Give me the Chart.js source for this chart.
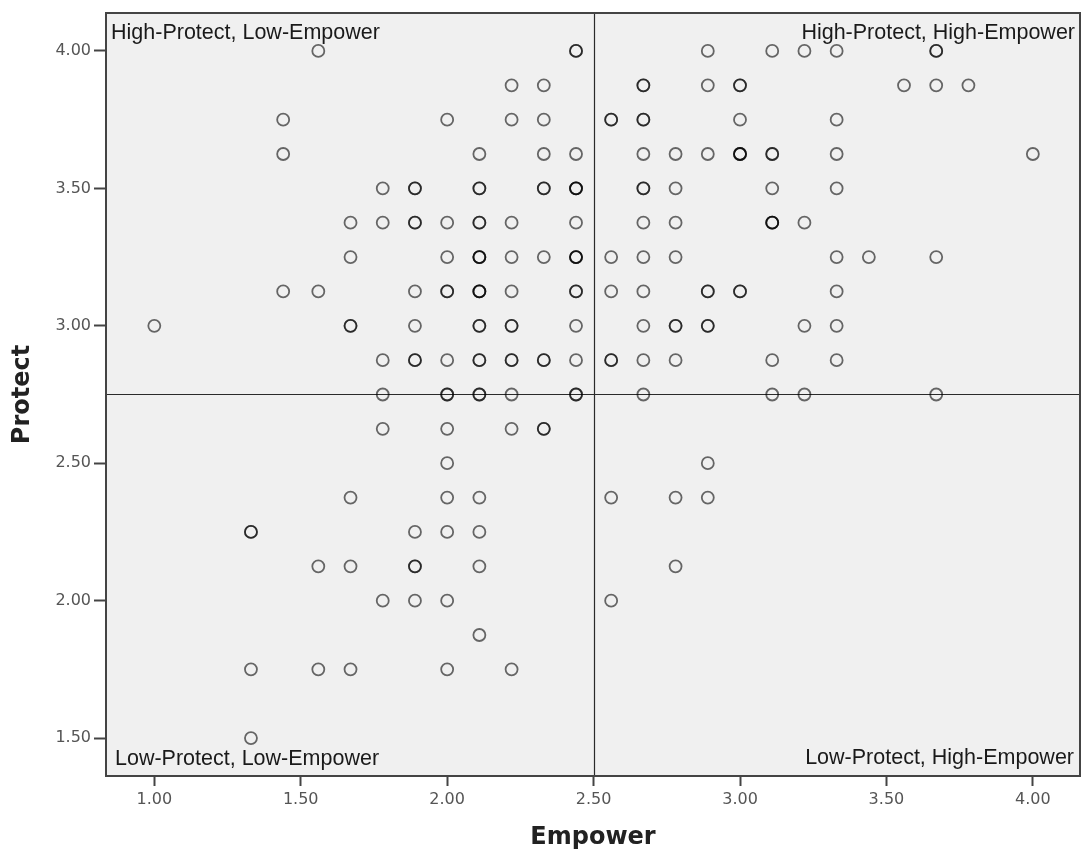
<!DOCTYPE html>
<html>
<head>
<meta charset="utf-8">
<title>Protect vs Empower</title>
<script src="https://cdn.jsdelivr.net/npm/chart.js@4"></script>
<style>
    body { margin: 0; background: #fff; }
    canvas { display: block; }
</style>
</head>
<body>
<canvas id="scatterChart" width="1081" height="852"></canvas>
<script>
// Data: each row is one Protect level, with the Empower values found on it
// and how many respondents sit on that same spot (overlapping circles)
const protectLevels = [4.00, 3.875, 3.75, 3.625, 3.50, 3.375, 3.25, 3.125, 3.00, 2.875,
    2.75, 2.625, 2.50, 2.375, 2.25, 2.125, 2.00, 1.875, 1.75, 1.50];

const empowerByRow = [
    [1.56, 2.44, 2.89, 3.11, 3.22, 3.33, 3.67],
    [2.22, 2.33, 2.67, 2.89, 3.00, 3.56, 3.67, 3.78],
    [1.44, 2.00, 2.22, 2.33, 2.56, 2.67, 3.00, 3.33],
    [1.44, 2.11, 2.33, 2.44, 2.67, 2.78, 2.89, 3.00, 3.11, 3.33, 4.00],
    [1.78, 1.89, 2.11, 2.33, 2.44, 2.67, 2.78, 3.11, 3.33],
    [1.67, 1.78, 1.89, 2.00, 2.11, 2.22, 2.44, 2.67, 2.78, 3.11, 3.22],
    [1.67, 2.00, 2.11, 2.22, 2.33, 2.44, 2.56, 2.67, 2.78, 3.33, 3.44, 3.67],
    [1.44, 1.56, 1.89, 2.00, 2.11, 2.22, 2.44, 2.56, 2.67, 2.89, 3.00, 3.33],
    [1.00, 1.67, 1.89, 2.11, 2.22, 2.44, 2.67, 2.78, 2.89, 3.22, 3.33],
    [1.78, 1.89, 2.00, 2.11, 2.22, 2.33, 2.44, 2.56, 2.67, 2.78, 3.11, 3.33],
    [1.78, 2.00, 2.11, 2.22, 2.44, 2.67, 3.11, 3.22, 3.67],
    [1.78, 2.00, 2.22, 2.33],
    [2.00, 2.89],
    [1.67, 2.00, 2.11, 2.56, 2.78, 2.89],
    [1.33, 1.89, 2.00, 2.11],
    [1.56, 1.67, 1.89, 2.11, 2.78],
    [1.78, 1.89, 2.00, 2.56],
    [2.11],
    [1.33, 1.56, 1.67, 2.00, 2.22],
    [1.33]
];

const countByRow = [
    [1, 2, 1, 1, 1, 1, 2],
    [1, 1, 2, 1, 2, 1, 1, 1],
    [1, 1, 1, 1, 2, 2, 1, 1],
    [1, 1, 1, 1, 1, 1, 1, 3, 2, 1, 1],
    [1, 2, 2, 2, 3, 2, 1, 1, 1],
    [1, 1, 2, 1, 2, 1, 1, 1, 1, 3, 1],
    [1, 1, 3, 1, 1, 3, 1, 1, 1, 1, 1, 1],
    [1, 1, 1, 2, 3, 1, 2, 1, 1, 2, 2, 1],
    [1, 2, 1, 2, 2, 1, 1, 2, 2, 1, 1],
    [1, 2, 1, 2, 2, 2, 1, 2, 1, 1, 1, 1],
    [1, 2, 2, 1, 2, 1, 1, 1, 1],
    [1, 1, 1, 2],
    [1, 1],
    [1, 1, 1, 1, 1, 1],
    [2, 1, 1, 1],
    [1, 1, 2, 1, 1],
    [1, 1, 1, 1],
    [1],
    [1, 1, 1, 1, 1],
    [1]
];

// Axes
const xTicks = [1.00, 1.50, 2.00, 2.50, 3.00, 3.50, 4.00];
const yTicks = [1.50, 2.00, 2.50, 3.00, 3.50, 4.00];
const xRange = [0.835, 4.161];
const yRange = [1.362, 4.138];

// Reference lines and quadrant labels
const empowerCut = 2.50;
const protectCut = 2.75;
const quadrantLabels = {
    topLeft: 'High-Protect, Low-Empower',
    topRight: 'High-Protect, High-Empower',
    bottomLeft: 'Low-Protect, Low-Empower',
    bottomRight: 'Low-Protect, High-Empower'
};

// Build the point list (one entry per respondent, so repeats overlap and look darker)
const points = [];
protectLevels.forEach((p, i) => {
    empowerByRow[i].forEach((e, j) => {
        for (let k = 0; k < countByRow[i][j]; k++) {
            points.push({ x: e, y: p });
        }
    });
});

// Plot background, frame, cut lines and corner labels
const quadrantPlugin = {
    id: 'quadrants',
    beforeDatasetsDraw(chart) {
        const { ctx, chartArea: a, scales } = chart;
        ctx.save();
        ctx.fillStyle = '#f0f0f0';
        ctx.fillRect(a.left, a.top, a.right - a.left, a.bottom - a.top);

        ctx.strokeStyle = '#2a2a2a';
        ctx.lineWidth = 1.2;
        const cx = Math.round(scales.x.getPixelForValue(empowerCut)) + 0.5;
        const cy = Math.round(scales.y.getPixelForValue(protectCut)) - 0.5;
        ctx.beginPath();
        ctx.moveTo(cx, a.top);
        ctx.lineTo(cx, a.bottom);
        ctx.moveTo(a.left, cy);
        ctx.lineTo(a.right, cy);
        ctx.stroke();

        ctx.fillStyle = '#1a1a1a';
        ctx.font = '21.5px "Liberation Sans", Arial, sans-serif';
        ctx.textBaseline = 'alphabetic';
        ctx.textAlign = 'left';
        ctx.fillText(quadrantLabels.topLeft, a.left + 5, a.top + 26);
        ctx.fillText(quadrantLabels.bottomLeft, a.left + 9, a.bottom - 11);
        ctx.textAlign = 'right';
        ctx.fillText(quadrantLabels.topRight, a.right - 5, a.top + 26);
        ctx.fillText(quadrantLabels.bottomRight, a.right - 6, a.bottom - 12);
        ctx.restore();
    },
    afterDraw(chart) {
        const { ctx, chartArea: a } = chart;
        ctx.save();
        ctx.strokeStyle = '#444';
        ctx.lineWidth = 2;
        ctx.strokeRect(a.left, a.top, a.right - a.left, a.bottom - a.top);
        ctx.restore();
    }
};

const tickFont = { size: 16, family: '"DejaVu Sans", sans-serif' };
const titleFont = { size: 24, weight: 'bold', family: '"DejaVu Sans", sans-serif' };

const ctx = document.getElementById('scatterChart').getContext('2d');
new Chart(ctx, {
    type: 'scatter',
    data: {
        datasets: [{
            data: points,
            pointStyle: 'circle',
            pointRadius: 6,
            pointBorderWidth: 1.8,
            pointBackgroundColor: 'rgba(0, 0, 0, 0)',
            pointBorderColor: 'rgba(0, 0, 0, 0.58)'
        }]
    },
    options: {
        responsive: false,
        animation: false,
        devicePixelRatio: 1,
        events: [],
        layout: { autoPadding: false, padding: { top: 13, right: 1, left: 0, bottom: 0 } },
        plugins: {
            legend: { display: false },
            tooltip: { enabled: false }
        },
        scales: {
            x: {
                type: 'linear',
                min: xRange[0],
                max: xRange[1],
                afterBuildTicks: (scale) => { scale.ticks = xTicks.map(v => ({ value: v })); },
                afterFit: (scale) => {
                    scale.height = 76;
                    scale.paddingLeft = 0;
                    scale.paddingRight = 0;
                },
                grid: { drawOnChartArea: false, tickLength: 10, tickWidth: 2, tickColor: '#444' },
                border: { display: true, color: '#444', width: 2 },
                ticks: {
                    font: tickFont,
                    color: '#555',
                    padding: 4,
                    maxRotation: 0,
                    callback: (v) => Number(v).toFixed(2)
                },
                title: {
                    display: true,
                    text: 'Empower',
                    font: titleFont,
                    color: '#222',
                    padding: { top: 0, bottom: 0 }
                }
            },
            y: {
                type: 'linear',
                min: yRange[0],
                max: yRange[1],
                afterBuildTicks: (scale) => { scale.ticks = yTicks.map(v => ({ value: v })); },
                afterFit: (scale) => {
                    scale.width = 106;
                    scale.paddingTop = 0;
                    scale.paddingBottom = 0;
                },
                grid: { drawOnChartArea: false, tickLength: 12, tickWidth: 2, tickColor: '#444' },
                border: { display: true, color: '#444', width: 2 },
                ticks: {
                    font: tickFont,
                    color: '#555',
                    padding: 3,
                    callback: (v) => Number(v).toFixed(2)
                },
                title: {
                    display: true,
                    text: 'Protect',
                    font: titleFont,
                    color: '#222',
                    padding: { top: 8, bottom: 0 }
                }
            }
        }
    },
    plugins: [quadrantPlugin]
});
</script>
</body>
</html>
